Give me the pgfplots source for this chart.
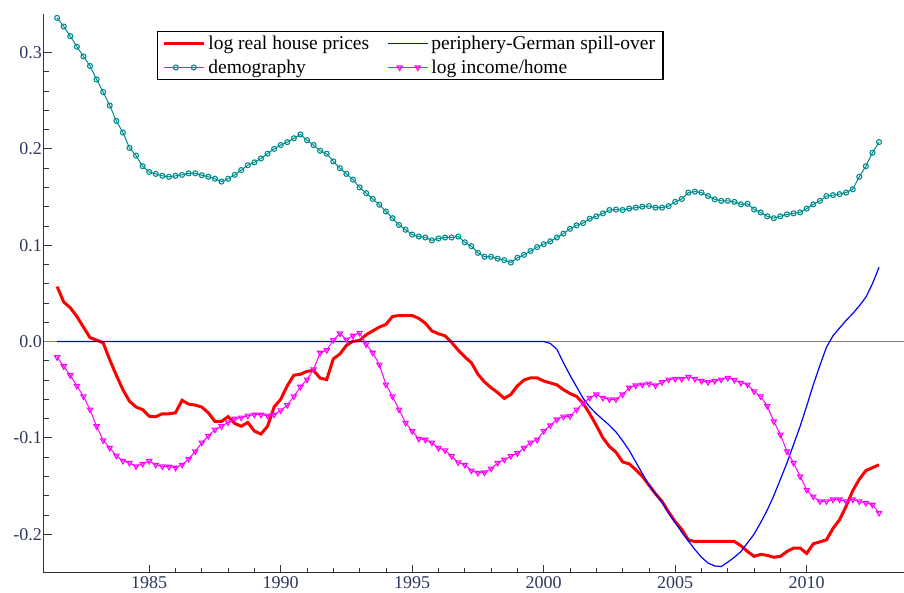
\documentclass[border=0pt]{standalone}
\usepackage{fontspec}
\setmainfont{Liberation Serif}
\usepackage{pgfplots}
\usepackage{pgfplotstable}
\pgfplotsset{compat=1.18}
\definecolor{hpred}{RGB}{255,0,0}
\definecolor{spblue}{RGB}{0,0,255}
\definecolor{demteal}{RGB}{0,140,140}
\definecolor{incmag}{RGB}{255,0,255}
\definecolor{ticklab}{RGB}{45,55,95}

\pgfplotstableread{
x y
1981.5 0.057
1981.75 0.041
1982.0 0.035
1982.25 0.026
1982.5 0.015
1982.75 0.004
1983.0 0.0015
1983.25 -0.0014
1983.5 -0.019
1983.75 -0.035
1984.0 -0.050
1984.25 -0.062
1984.5 -0.068
1984.75 -0.0707
1985.0 -0.0776
1985.25 -0.078
1985.5 -0.075
1985.75 -0.075
1986.0 -0.074
1986.25 -0.061
1986.5 -0.065
1986.75 -0.066
1987.0 -0.068
1987.25 -0.074
1987.5 -0.083
1987.75 -0.083
1988.0 -0.078
1988.25 -0.085
1988.5 -0.088
1988.75 -0.084
1989.0 -0.093
1989.25 -0.096
1989.5 -0.088
1989.75 -0.068
1990.0 -0.060
1990.25 -0.046
1990.5 -0.035
1990.75 -0.034
1991.0 -0.031
1991.25 -0.030
1991.5 -0.038
1991.75 -0.0395
1992.0 -0.018
1992.25 -0.013
1992.5 -0.004
1992.75 0.0003
1993.0 0.001
1993.25 0.007
1993.5 0.011
1993.75 0.015
1994.0 0.0177
1994.25 0.026
1994.5 0.027
1994.75 0.027
1995.0 0.027
1995.25 0.024
1995.5 0.019
1995.75 0.011
1996.0 0.008
1996.25 0.006
1996.5 -0.001
1996.75 -0.009
1997.0 -0.016
1997.25 -0.022
1997.5 -0.034
1997.75 -0.042
1998.0 -0.048
1998.25 -0.053
1998.5 -0.059
1998.75 -0.055
1999.0 -0.046
1999.25 -0.040
1999.5 -0.0377
1999.75 -0.0377
2000.0 -0.041
2000.25 -0.043
2000.5 -0.045
2000.75 -0.050
2001.0 -0.054
2001.25 -0.057
2001.5 -0.064
2001.75 -0.075
2002.0 -0.087
2002.25 -0.100
2002.5 -0.109
2002.75 -0.115
2003.0 -0.125
2003.25 -0.127
2003.5 -0.133
2003.75 -0.140
2004.0 -0.149
2004.25 -0.158
2004.5 -0.166
2004.75 -0.177
2005.0 -0.187
2005.25 -0.195
2005.5 -0.206
2005.75 -0.2076
2006.0 -0.2076
2006.25 -0.2076
2006.5 -0.2076
2006.75 -0.2076
2007.0 -0.2076
2007.25 -0.2076
2007.5 -0.212
2007.75 -0.218
2008.0 -0.223
2008.25 -0.221
2008.5 -0.222
2008.75 -0.224
2009.0 -0.223
2009.25 -0.218
2009.5 -0.2144
2009.75 -0.2144
2010.0 -0.220
2010.25 -0.210
2010.5 -0.208
2010.75 -0.206
2011.0 -0.194
2011.25 -0.185
2011.5 -0.171
2011.75 -0.155
2012.0 -0.143
2012.25 -0.134
2012.5 -0.131
2012.75 -0.128
}\housetab

\pgfplotstableread{
x y
1981.5 0
2000.0 0
2000.25 -0.002
2000.5 -0.008
2000.75 -0.022
2001.0 -0.035
2001.25 -0.047
2001.5 -0.059
2001.75 -0.068
2002.0 -0.075
2002.25 -0.081
2002.5 -0.087
2002.75 -0.094
2003.0 -0.103
2003.25 -0.113
2003.5 -0.125
2003.75 -0.137
2004.0 -0.149
2004.25 -0.158
2004.5 -0.167
2004.75 -0.178
2005.0 -0.188
2005.25 -0.198
2005.5 -0.207
2005.75 -0.216
2006.0 -0.224
2006.25 -0.230
2006.5 -0.233
2006.75 -0.2336
2007.0 -0.229
2007.25 -0.224
2007.5 -0.218
2007.75 -0.209
2008.0 -0.200
2008.25 -0.188
2008.5 -0.175
2008.75 -0.160
2009.0 -0.143
2009.25 -0.126
2009.5 -0.107
2009.75 -0.088
2010.0 -0.067
2010.25 -0.045
2010.5 -0.025
2010.75 -0.006
2011.0 0.006
2011.25 0.014
2011.5 0.022
2011.75 0.029
2012.0 0.037
2012.25 0.046
2012.5 0.060
2012.75 0.077
}\spilltab

\pgfplotstableread{
x y
1981.5 0.336
1981.75 0.327
1982.0 0.317
1982.25 0.306
1982.5 0.296
1982.75 0.286
1983.0 0.272
1983.25 0.259
1983.5 0.245
1983.75 0.229
1984.0 0.217
1984.25 0.201
1984.5 0.193
1984.75 0.182
1985.0 0.176
1985.25 0.174
1985.5 0.172
1985.75 0.171
1986.0 0.172
1986.25 0.173
1986.5 0.1746
1986.75 0.1746
1987.0 0.1726
1987.25 0.171
1987.5 0.169
1987.75 0.166
1988.0 0.169
1988.25 0.173
1988.5 0.178
1988.75 0.183
1989.0 0.186
1989.25 0.190
1989.5 0.195
1989.75 0.200
1990.0 0.204
1990.25 0.207
1990.5 0.211
1990.75 0.215
1991.0 0.209
1991.25 0.204
1991.5 0.198
1991.75 0.195
1992.0 0.187
1992.25 0.180
1992.5 0.174
1992.75 0.168
1993.0 0.160
1993.25 0.154
1993.5 0.148
1993.75 0.142
1994.0 0.135
1994.25 0.128
1994.5 0.121
1994.75 0.116
1995.0 0.111
1995.25 0.109
1995.5 0.108
1995.75 0.105
1996.0 0.107
1996.25 0.108
1996.5 0.108
1996.75 0.109
1997.0 0.103
1997.25 0.099
1997.5 0.092
1997.75 0.088
1998.0 0.088
1998.25 0.086
1998.5 0.0845
1998.75 0.082
1999.0 0.087
1999.25 0.090
1999.5 0.094
1999.75 0.098
2000.0 0.101
2000.25 0.104
2000.5 0.108
2000.75 0.112
2001.0 0.117
2001.25 0.1206
2001.5 0.123
2001.75 0.1275
2002.0 0.130
2002.25 0.133
2002.5 0.1365
2002.75 0.137
2003.0 0.1365
2003.25 0.138
2003.5 0.139
2003.75 0.140
2004.0 0.1406
2004.25 0.139
2004.5 0.139
2004.75 0.1406
2005.0 0.145
2005.25 0.148
2005.5 0.1546
2005.75 0.1556
2006.0 0.1546
2006.25 0.151
2006.5 0.1476
2006.75 0.146
2007.0 0.146
2007.25 0.145
2007.5 0.1424
2007.75 0.143
2008.0 0.137
2008.25 0.134
2008.5 0.130
2008.75 0.128
2009.0 0.130
2009.25 0.132
2009.5 0.133
2009.75 0.134
2010.0 0.138
2010.25 0.1424
2010.5 0.146
2010.75 0.151
2011.0 0.152
2011.25 0.153
2011.5 0.1546
2011.75 0.158
2012.0 0.171
2012.25 0.182
2012.5 0.196
2012.75 0.207
}\demotab

\pgfplotstableread{
x y
1981.5 -0.0163
1981.75 -0.0257
1982.0 -0.035
1982.25 -0.046
1982.5 -0.057
1982.75 -0.0707
1983.0 -0.088
1983.25 -0.1026
1983.5 -0.1105
1983.75 -0.1185
1984.0 -0.124
1984.25 -0.126
1984.5 -0.1296
1984.75 -0.127
1985.0 -0.124
1985.25 -0.128
1985.5 -0.1296
1985.75 -0.130
1986.0 -0.131
1986.25 -0.128
1986.5 -0.122
1986.75 -0.114
1987.0 -0.105
1987.25 -0.098
1987.5 -0.0915
1987.75 -0.088
1988.0 -0.084
1988.25 -0.080
1988.5 -0.079
1988.75 -0.077
1989.0 -0.076
1989.25 -0.076
1989.5 -0.077
1989.75 -0.076
1990.0 -0.0715
1990.25 -0.066
1990.5 -0.057
1990.75 -0.047
1991.0 -0.0395
1991.25 -0.029
1991.5 -0.0117
1991.75 -0.009
1992.0 0.0014
1992.25 0.0083
1992.5 0.002
1992.75 0.006
1993.0 0.009
1993.25 -0.003
1993.5 -0.0117
1993.75 -0.024
1994.0 -0.0447
1994.25 -0.057
1994.5 -0.0707
1994.75 -0.0845
1995.0 -0.093
1995.25 -0.101
1995.5 -0.102
1995.75 -0.105
1996.0 -0.1105
1996.25 -0.113
1996.5 -0.119
1996.75 -0.1255
1997.0 -0.128
1997.25 -0.134
1997.5 -0.1365
1997.75 -0.136
1998.0 -0.132
1998.25 -0.126
1998.5 -0.1226
1998.75 -0.119
1999.0 -0.116
1999.25 -0.1105
1999.5 -0.105
1999.75 -0.102
2000.0 -0.093
2000.25 -0.087
2000.5 -0.081
2000.75 -0.078
2001.0 -0.0776
2001.25 -0.0707
2001.5 -0.064
2001.75 -0.0585
2002.0 -0.055
2002.25 -0.0585
2002.5 -0.060
2002.75 -0.060
2003.0 -0.055
2003.25 -0.048
2003.5 -0.0457
2003.75 -0.0447
2004.0 -0.0437
2004.25 -0.0457
2004.5 -0.0423
2004.75 -0.0395
2005.0 -0.0388
2005.25 -0.0388
2005.5 -0.0367
2005.75 -0.0388
2006.0 -0.041
2006.25 -0.0423
2006.5 -0.041
2006.75 -0.0395
2007.0 -0.0377
2007.25 -0.040
2007.5 -0.043
2007.75 -0.0447
2008.0 -0.0517
2008.25 -0.057
2008.5 -0.067
2008.75 -0.083
2009.0 -0.0967
2009.25 -0.114
2009.5 -0.126
2009.75 -0.140
2010.0 -0.154
2010.25 -0.161
2010.5 -0.166
2010.75 -0.166
2011.0 -0.164
2011.25 -0.164
2011.5 -0.166
2011.75 -0.164
2012.0 -0.166
2012.25 -0.1677
2012.5 -0.1695
2012.75 -0.178
}\inctab

\begin{document}
\begin{tikzpicture}
\begin{axis}[
  scale only axis,
  width=860pt, height=558.7pt,
  xmin=1981, xmax=2013.7,
  ymin=-0.24, ymax=0.34,
  axis x line*=bottom, axis y line*=left,
  axis line style={-, draw=black!80, line width=1pt},
  xtick={1985,1990,...,2010},
  minor x tick num=4,
  ytick={-0.2,-0.1,...,0.3},
  minor y tick num=4,
  tick align=inside,
  major tick length=8pt, minor tick length=5pt,
  every tick/.style={draw=black!80, line width=0.8pt},
  tick label style={font=\fontsize{18}{20}\selectfont, text=ticklab, inner sep=1pt},
  xticklabel style={yshift=-3pt, /pgf/number format/1000 sep={}},
  yticklabel style={xshift=-1pt, /pgf/number format/.cd, fixed, fixed zerofill, precision=1},
  /pgf/number format/assume math mode=true,
  legend columns=2,
  legend cell align=left,
  legend image code/.code={
    \draw[mark repeat=2,mark phase=2,#1] plot coordinates {(0pt,0pt) (12pt,0pt) (20pt,0pt) (30pt,0pt) (40pt,0pt)};
  },
  legend style={
    at={(rel axis cs:0.131,0.97)}, anchor=north west,
    font=\fontsize{19.5}{22}\selectfont,
    draw=black, line width=1.4pt,
    inner xsep=5pt, inner ysep=3pt,
    row sep=6pt,
    nodes={inner xsep=3pt, inner ysep=1.5pt},
    /tikz/every even column/.append style={column sep=15pt},
  },
]
\coordinate (sw) at (rel axis cs:0,0);
\coordinate (ne) at (rel axis cs:1,1);
\addplot[gray, line width=1pt, forget plot] coordinates {(1981,0) (2013.7,0)};
\addplot[hpred, line width=3pt, no marks] table[x=x,y=y] {\housetab};
\addlegendentry{log real house prices}
\addplot[spblue, line width=1.2pt, no marks] table[x=x,y=y] {\spilltab};
\addlegendentry{periphery-German spill-over}
\addplot[demteal, line width=1pt, mark=o, mark size=2.5pt, mark options={line width=1.1pt, fill=white}] table[x=x,y=y] {\demotab};
\addlegendentry{demography}
\addplot[incmag, line width=1pt, mark=triangle, mark size=3pt, mark options={rotate=180, line width=1.1pt}] table[x=x,y=y] {\inctab};
\addlegendentry{log income/home}
\end{axis}
\pgfresetboundingbox
\path ([xshift=-44pt,yshift=-19.3pt]sw) rectangle ([yshift=14pt]ne);
\end{tikzpicture}
\end{document}
